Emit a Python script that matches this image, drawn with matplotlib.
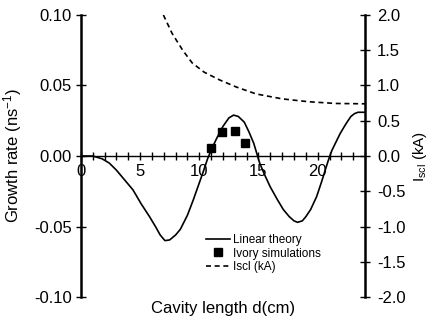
import matplotlib
matplotlib.use('Agg')
import matplotlib.pyplot as plt
from matplotlib import font_manager
from matplotlib.ticker import MultipleLocator

# narrow sans if available, else regular
names = set(f.name for f in font_manager.fontManager.ttflist)
fam = 'Liberation Sans Narrow' if 'Liberation Sans Narrow' in names else 'Liberation Sans'
plt.rcParams['font.family'] = [fam, 'DejaVu Sans']
plt.rcParams['mathtext.fontset'] = 'custom'
plt.rcParams['mathtext.rm'] = fam
plt.rcParams['mathtext.it'] = fam

# linear theory growth rate (ns^-1) vs cavity length (cm)
d_lin = [0, 1, 1.8, 2.4, 3.0, 3.7, 4.4, 5.1, 5.8, 6.3, 6.7, 7.1, 7.5, 8.0, 8.4, 9.0, 9.5,
         10.3, 10.7, 11.1, 11.5, 12.0, 12.5, 12.9, 13.3, 13.8, 14.2, 14.6, 15.1, 15.5,
         16.0, 16.6, 17.1, 17.6, 18.0, 18.3, 18.7, 19.0, 19.4, 19.9, 20.3, 20.9, 21.2,
         21.9, 22.4, 22.8, 23.1, 23.4, 24]
g_lin = [0, 0, -0.002, -0.005, -0.010, -0.017, -0.024, -0.034, -0.043, -0.050, -0.056,
         -0.060, -0.0595, -0.056, -0.052, -0.042, -0.031, -0.012, -0.002, 0.006, 0.013,
         0.021, 0.027, 0.029, 0.028, 0.024, 0.017, 0.009, -0.005, -0.013, -0.022, -0.031,
         -0.038, -0.043, -0.046, -0.047, -0.046, -0.043, -0.038, -0.029, -0.019, -0.003,
         0.004, 0.016, 0.023, 0.028, 0.030, 0.031, 0.031]

# ivory simulations
d_ivory = [11.0, 11.9, 13.0, 13.9]
g_ivory = [0.006, 0.017, 0.018, 0.009]

# space-charge limiting current (kA)
d_iscl = [6.97, 7.7, 8.6, 9.4, 10.4, 11.7, 13.1, 14.8, 17.0, 19.2, 21.5, 24.0]
i_iscl = [2.0, 1.74, 1.50, 1.32, 1.19, 1.08, 0.98, 0.88, 0.81, 0.77, 0.745, 0.74]

fig = plt.figure(figsize=(4.3, 3.25), dpi=100)
ax = fig.add_axes([0.188, 0.086, 0.661, 0.868])
ax2 = ax.twinx()

l1, = ax.plot(d_lin, g_lin, '-', color='black', lw=1.2, label='Linear theory')
l2, = ax.plot(d_ivory, g_ivory, 's', color='black', ms=6, label='Ivory simulations')
l3, = ax2.plot(d_iscl, i_iscl, '--', color='black', lw=1.2, dashes=(3, 2.2), label='Iscl (kA)')

ax.set_xlim(0, 24)
ax.set_ylim(-0.1, 0.1)
ax2.set_ylim(-2.0, 2.0)

for s in ['top', 'right']:
    ax.spines[s].set_visible(False)
for s in ['top', 'left', 'bottom']:
    ax2.spines[s].set_visible(False)
ax.spines['bottom'].set_position(('data', 0))
ax.spines['bottom'].set_linewidth(1.0)
ax.spines['left'].set_linewidth(1.8)
ax2.spines['right'].set_linewidth(1.8)

ax.xaxis.set_major_locator(MultipleLocator(5))
ax.xaxis.set_minor_locator(MultipleLocator(1))
ax.set_yticks([-0.1, -0.05, 0, 0.05, 0.1])
ax.set_yticklabels(['-0.10', '-0.05', '0.00', '0.05', '0.10'])
ax2.set_yticks([-2, -1.5, -1, -0.5, 0, 0.5, 1, 1.5, 2])
ax2.set_yticklabels(['-2.0', '-1.5', '-1.0', '-0.5', '0.0', '0.5', '1.0', '1.5', '2.0'])

ax.tick_params(axis='x', which='both', direction='inout', length=6, width=1.0,
               labelsize=12, pad=2.5)
ax.tick_params(axis='y', direction='inout', length=7, width=1.0, labelsize=12, pad=3)
ax2.tick_params(axis='y', direction='inout', length=7, width=1.0, labelsize=12, pad=5)

ax.set_ylabel('Growth rate (ns$^{-1}$)', fontsize=12)
ax.yaxis.set_label_coords(-0.2, 0.5)
ax.set_xlabel('Cavity length d(cm)', fontsize=12)
ax.xaxis.set_label_coords(0.5, -0.015)
ax2.set_ylabel('I$_{scl}$ (kA)', fontsize=11, rotation=90)
ax2.yaxis.set_label_coords(1.16, 0.5)

ax.legend(handles=[l1, l2, l3], loc='upper left', bbox_to_anchor=(0.42, 0.245),
          frameon=False, fontsize=8.5, handlelength=2.0, handletextpad=0.3,
          labelspacing=0.15, borderpad=0)

fig.savefig('out.png', dpi=100)
